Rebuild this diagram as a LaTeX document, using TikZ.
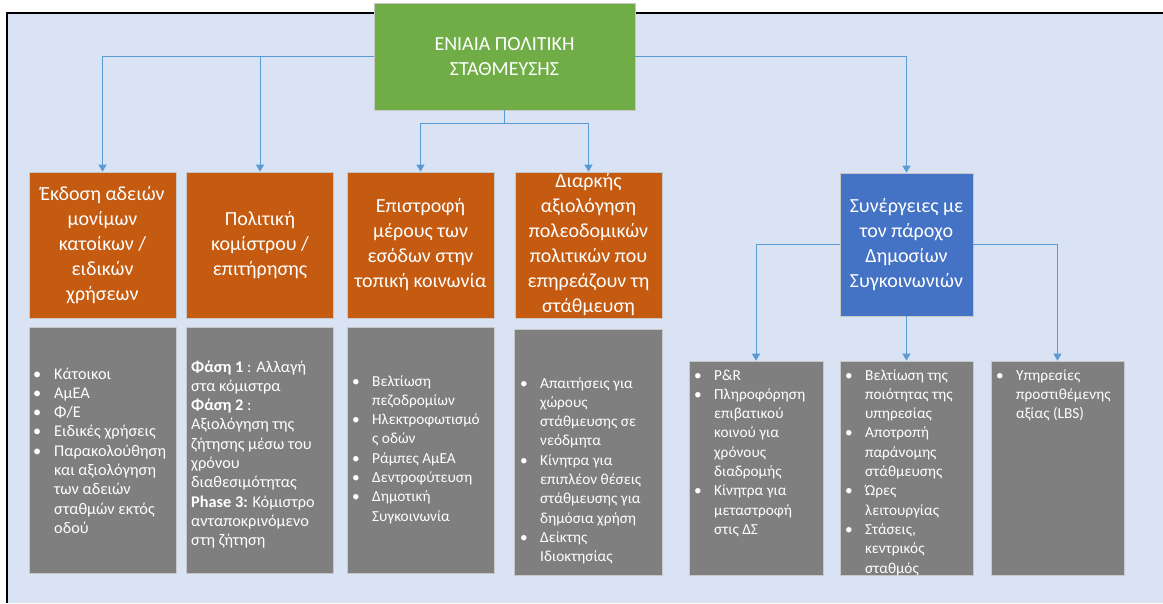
\documentclass[tikz,border=0pt]{standalone}
\usepackage{fontspec}
\setmainfont{Carlito}
\usetikzlibrary{arrows.meta}
\definecolor{bgblue}{HTML}{DAE3F3}
\definecolor{ggreen}{HTML}{70AD47}
\definecolor{oorange}{HTML}{C55A11}
\definecolor{bblue}{HTML}{4472C4}
\definecolor{ggray}{HTML}{7F7F7F}
\definecolor{connc}{HTML}{5B9BD5}
\newcommand{\bl}{\textbullet}
\tikzset{
 box/.style={rectangle, inner sep=0pt, draw=black!22, line width=0.6pt, text=white, align=center, font=\fontsize{20}{25}\selectfont},
 obox/.style={box, fill=oorange, minimum width=147pt, minimum height=146pt},
 gbox/.style={rectangle, inner sep=0pt, draw=black!22, line width=0.6pt, fill=ggray},
 gtext/.style={inner sep=0pt, anchor=base west, text=white, font=\fontsize{15.3}{19.3}\selectfont},
 gtextb/.style={gtext, font=\fontsize{16.3}{19.3}\selectfont},
 link/.style={draw=connc, line width=1pt},
 arr/.style={link, -{Triangle[width=8pt,length=7pt]}},
}
\begin{document}
\begin{tikzpicture}[x=1pt,y=-1pt]
\useasboundingbox (0,0) rectangle (1163,603);
\fill[white] (0,0) rectangle (1163,603);
\fill[bgblue] (7,13) rectangle (1163,603);
\draw[black, line width=1.6pt] (7,603) -- (7,13) -- (1163,13);

\node[box, fill=ggreen, minimum width=261pt, minimum height=107pt] (top) at (504.5,56.5) {ΕΝΙΑΙΑ ΠΟΛΙΤΙΚΗ\\ΣΤΑΘΜΕΥΣΗΣ};

\node[obox] (o1) at (102.5,245) {Έκδοση αδειών\\μονίμων\\κατοίκων /\\ειδικών\\χρήσεων};
\node[obox] (o2) at (260,245) {Πολιτική\\κομίστρου /\\επιτήρησης};
\node[obox] (o3) at (420.5,245) {Επιστροφή\\μέρους των\\εσόδων στην\\τοπική κοινωνία};
\node[obox] (o4) at (588.5,245) {Διαρκής\\αξιολόγηση\\πολεοδομικών\\πολιτικών που\\επηρεάζουν τη\\στάθμευση};
\node[box, fill=bblue, minimum width=133pt, minimum height=143pt] (blue) at (906.5,244.5) {Συνέργειες με\\τον πάροχο\\Δημοσίων\\Συγκοινωνιών};

\node[gbox, minimum width=147pt, minimum height=246pt] (g1) at (102.5,450) {};
\node[gbox, minimum width=147pt, minimum height=246pt] (g2) at (260,450) {};
\node[gbox, minimum width=147pt, minimum height=246pt] (g3) at (420.5,450) {};
\node[gbox, minimum width=148pt, minimum height=246pt] (g4) at (588,452) {};
\node[gbox, minimum width=134pt, minimum height=214pt] (g5) at (756,468) {};
\node[gbox, minimum width=133pt, minimum height=214pt] (g6) at (906.5,468) {};
\node[gbox, minimum width=133pt, minimum height=214pt] (g7) at (1057.5,468) {};

\draw[arr] (top.west) -| (o1.north);
\draw[arr] (top.west -| o2.north) -- (o2.north);
\draw[arr] (top.east) -| (blue.north);
\coordinate (j) at (504.5,123);
\draw[link] (top.south) -- (j);
\draw[arr] (j) -| (o3.north);
\draw[arr] (j) -| (o4.north);
\draw[arr] (blue.west) -| (g5.north);
\draw[arr] (blue.east) -| (g7.north);
\draw[arr] (blue.south) -- (g6.north);

\node[gtextb] (t1) at (33,379) {\begin{tabular}[t]{@{}p{21pt}@{}l@{}}
\bl & Κάτοικοι\\
\bl & ΑμΕΑ\\
\bl & Φ/Ε\\
\bl & Ειδικές χρήσεις\\
\bl & Παρακολούθηση\\
 & και αξιολόγηση\\
 & των αδειών\\
 & σταθμών εκτός\\
 & οδού
\end{tabular}};
\node[gtextb] (t2) at (191,372) {\begin{tabular}[t]{@{}l@{}}
\textbf{Φάση 1} : Αλλαγή\\
στα κόμιστρα\\
\textbf{Φάση 2} :\\
Αξιολόγηση της\\
ζήτησης μέσω του\\
χρόνου\\
διαθεσιμότητας\\
\textbf{Phase 3:} Κόμιστρο\\
ανταποκρινόμενο\\
στη ζήτηση
\end{tabular}};
\node[gtext] (t3) at (352,386) {\begin{tabular}[t]{@{}p{20pt}@{}l@{}}
\bl & Βελτίωση\\
 & πεζοδρομίων\\
\bl & Ηλεκτροφωτισμό\\
 & ς οδών\\
\bl & Ράμπες ΑμΕΑ\\
\bl & Δεντροφύτευση\\
\bl & Δημοτική\\
 & Συγκοινωνία
\end{tabular}};
\node[gtext] (t4) at (520,388) {\begin{tabular}[t]{@{}p{20pt}@{}l@{}}
\bl & Απαιτήσεις για\\
 & χώρους\\
 & στάθμευσης σε\\
 & νεόδμητα\\
\bl & Κίνητρα για\\
 & επιπλέον θέσεις\\
 & στάθμευσης για\\
 & δημόσια χρήση\\
\bl & Δείκτης\\
 & Ιδιοκτησίας
\end{tabular}};
\node[gtext] (t5) at (694,380) {\begin{tabular}[t]{@{}p{20pt}@{}l@{}}
\bl & P\&R\\
\bl & Πληροφόρηση\\
 & επιβατικού\\
 & κοινού για\\
 & χρόνους\\
 & διαδρομής\\
\bl & Κίνητρα για\\
 & μεταστροφή\\
 & στις ΔΣ
\end{tabular}};
\begin{scope}
\clip (g6.north west) rectangle (g6.south east);
\node[gtext] (t6) at (845,380) {\begin{tabular}[t]{@{}p{20pt}@{}l@{}}
\bl & Βελτίωση της\\
 & ποιότητας της\\
 & υπηρεσίας\\
\bl & Αποτροπή\\
 & παράνομης\\
 & στάθμευσης\\
\bl & Ώρες\\
 & λειτουργίας\\
\bl & Στάσεις,\\
 & κεντρικός\\
 & σταθμός
\end{tabular}};
\end{scope}
\node[gtext] (t7) at (996,380) {\begin{tabular}[t]{@{}p{20pt}@{}l@{}}
\bl & Υπηρεσίες\\
 & προστιθέμενης\\
 & αξίας (LBS)
\end{tabular}};
\end{tikzpicture}
\end{document}
